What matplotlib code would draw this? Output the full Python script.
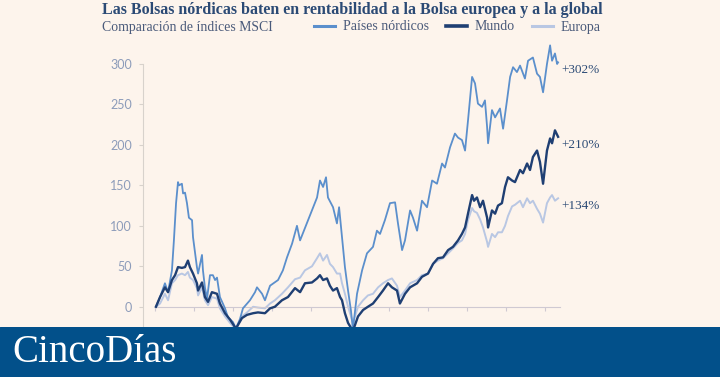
import matplotlib.pyplot as plt
from matplotlib.patches import Rectangle

# fechas en años decimales
fechas_nordicos = [1999.05, 1999.26, 1999.51, 1999.67, 1999.87, 1999.97, 2000.08, 2000.18, 2000.23, 2000.38,
                   2000.44, 2000.54, 2000.64, 2000.74, 2000.90, 2000.95, 2001.15, 2001.21, 2001.41, 2001.46,
                   2001.56, 2001.67, 2001.82, 2001.97, 2002.08, 2002.18, 2002.33, 2002.59, 2002.74, 2003.00,
                   2003.15, 2003.36, 2003.51, 2003.87, 2004.13, 2004.23, 2004.49, 2004.64, 2004.90, 2005.31,
                   2005.56, 2005.77, 2006.03, 2006.28, 2006.44, 2006.85, 2007.31, 2007.46, 2007.62, 2007.77,
                   2007.87, 2008.13, 2008.33, 2008.44, 2008.59, 2008.74, 2008.90, 2009.05, 2009.15, 2009.36,
                   2009.62, 2009.87, 2010.18, 2010.38, 2010.54, 2010.79, 2011.05, 2011.31, 2011.46, 2011.67,
                   2011.82, 2012.08, 2012.23, 2012.44, 2012.69, 2012.95, 2013.21, 2013.46, 2013.72, 2013.87,
                   2014.13, 2014.38, 2014.54, 2014.74, 2014.90, 2015.05, 2015.26, 2015.41, 2015.56, 2015.77,
                   2015.92, 2016.03, 2016.08, 2016.28, 2016.44, 2016.69, 2016.85, 2017.05, 2017.21, 2017.36,
                   2017.56, 2017.72, 2017.97, 2018.13, 2018.38, 2018.59, 2018.74, 2018.90, 2019.10, 2019.26,
                   2019.36, 2019.51, 2019.62, 2019.67]
nordicos = [0, 12, 29, 18, 45, 82, 128, 154, 150, 152,
            140, 141, 128, 110, 107, 86, 49, 41, 64, 45,
            24, 10, 39, 39, 33, 36, 12, -2, -13, -19,
            -27, -15, -2, 8, 18, 24, 16, 8, 26, 33,
            45, 61, 78, 100, 82, 107, 135, 156, 148, 160,
            135, 123, 103, 123, 86, 49, 20, -5, -28, 16,
            45, 66, 74, 94, 90, 107, 128, 129, 103, 70,
            82, 119, 110, 94, 131, 123, 156, 152, 177, 172,
            197, 214, 209, 206, 193, 230, 284, 276, 251, 247,
            255, 222, 202, 243, 234, 245, 220, 255, 284, 296,
            290, 298, 282, 304, 308, 288, 284, 265, 300, 323,
            304, 313, 300, 302]

fechas = [1999.05, 1999.26, 1999.51, 1999.67, 1999.87, 2000.03, 2000.18, 2000.38, 2000.54, 2000.69,
          2000.79, 2000.95, 2001.15, 2001.21, 2001.41, 2001.56, 2001.72, 2001.92, 2002.18, 2002.33,
          2002.59, 2002.85, 2003.15, 2003.46, 2003.72, 2004.03, 2004.28, 2004.64, 2004.90, 2005.15,
          2005.51, 2005.82, 2006.18, 2006.44, 2006.69, 2007.05, 2007.31, 2007.46, 2007.62, 2007.82,
          2007.97, 2008.13, 2008.33, 2008.49, 2008.59, 2008.74, 2008.90, 2009.15, 2009.41, 2009.67,
          2009.92, 2010.18, 2010.44, 2010.69, 2010.95, 2011.15, 2011.41, 2011.56, 2011.82, 2012.08,
          2012.44, 2012.69, 2013.00, 2013.26, 2013.51, 2013.77, 2014.03, 2014.28, 2014.54, 2014.74,
          2014.90, 2015.05, 2015.26, 2015.36, 2015.51, 2015.67, 2015.82, 2016.03, 2016.08, 2016.28,
          2016.44, 2016.59, 2016.79, 2016.95, 2017.10, 2017.31, 2017.46, 2017.72, 2017.87, 2018.08,
          2018.23, 2018.38, 2018.59, 2018.74, 2018.90, 2019.10, 2019.26, 2019.36, 2019.51, 2019.67]
mundo = [0, 12, 24, 18, 33, 39, 49, 48, 49, 57,
         49, 41, 29, 20, 30, 12, 6, 18, 16, 4,
         -8, -16, -27, -14, -10, -8, -7, -8, -2, 0,
         8, 12, 23, 18, 29, 30, 35, 39, 33, 35,
         26, 20, 23, 12, 8, -8, -20, -30, -12, -4,
         0, 4, 12, 20, 29, 24, 20, 4, 16, 24,
         29, 37, 41, 53, 60, 61, 70, 74, 82, 90,
         98, 115, 138, 131, 135, 123, 131, 110, 98, 119,
         115, 125, 128, 148, 160, 156, 154, 169, 165, 177,
         169, 185, 193, 179, 152, 193, 208, 202, 218, 210]
europa = [0, 4, 16, 8, 29, 33, 39, 41, 39, 43,
          36, 33, 23, 14, 24, 8, 2, 12, 10, -2,
          -12, -20, -28, -12, -7, 0, -1, -2, 4, 8,
          16, 24, 34, 36, 45, 50, 60, 66, 57, 64,
          53, 49, 41, 41, 29, 16, 0, -20, 0, 8,
          14, 16, 24, 29, 33, 35, 26, 12, 20, 29,
          33, 39, 41, 53, 57, 60, 66, 72, 79, 82,
          90, 107, 122, 118, 116, 108, 98, 80, 74, 90,
          86, 92, 92, 100, 112, 124, 126, 131, 123, 134,
          128, 131, 121, 115, 104, 128, 135, 138, 131, 134]

etiquetas_final = ["+302%", "+210%", "+134%"]
yticks = [0, 50, 100, 150, 200, 250, 300]
xticks = list(range(1999, 2020, 2))

fondo = "#fdf4ec"
c_nord = "#5b8fcc"
c_mundo = "#1f3f73"
c_europa = "#b9c7e3"
c_texto = "#2b4a75"

fig = plt.figure(figsize=(7.2, 3.77), dpi=100, facecolor=fondo)
ax = fig.add_axes([0.1986, 0.1005, 0.599, 0.7942])
ax.set_facecolor(fondo)

ax.plot(fechas, europa, color=c_europa, lw=1.4, zorder=2)
ax.plot(fechas_nordicos, nordicos, color=c_nord, lw=1.3, zorder=3)
ax.plot(fechas, mundo, color=c_mundo, lw=1.7, zorder=4)

ax.set_xlim(1998.385, 2020.5)
ax.set_ylim(-40, 330)

for s in ["top", "right"]:
    ax.spines[s].set_visible(False)
ax.spines["left"].set_color("#d8d2cc")
ax.spines["left"].set_bounds(-40, 300)
ax.spines["bottom"].set_position(("data", 0))
ax.spines["bottom"].set_color("#cfc9d2")
ax.spines["bottom"].set_bounds(1999, 2019.77)

ax.set_yticks(yticks)
ax.set_yticklabels([str(v) for v in yticks], family="Lato", fontsize=9, color="#8d9cba")
ax.tick_params(axis="y", length=3, color="#d8d2cc", pad=5)
ax.set_xticks(xticks)
ax.set_xticklabels([])
ax.tick_params(axis="x", length=3, color="#cfc9d2")

finales = [(fechas_nordicos[-1], nordicos[-1]), (fechas[-1], mundo[-1]), (fechas[-1], europa[-1])]
for (xf, yf), txt in zip(finales, etiquetas_final):
    ax.annotate(txt, (xf, yf), xytext=(2, -8), textcoords="offset points",
                family="Liberation Serif", fontsize=9.5, color=c_texto, clip_on=False)

fig.text(102 / 720, 1 - 10 / 377, "Las Bolsas nórdicas baten en rentabilidad a la Bolsa europea y a la global",
         family="Liberation Serif", weight="bold", fontsize=11.5, color=c_texto, va="center")
fig.text(102 / 720, 1 - 27 / 377, "Comparación de índices MSCI",
         family="Liberation Serif", fontsize=9.9, color="#4a5a7a", va="center")

handles = [plt.Line2D([], [], color=c, lw=w) for c, w in [(c_nord, 2.2), (c_mundo, 2.6), (c_europa, 2.2)]]
leg = fig.legend(handles, ["Países nórdicos", "Mundo", "Europa"], loc="center left",
                 bbox_to_anchor=(314 / 720, 1 - 27 / 377), ncol=3, frameon=False,
                 prop={"family": "Liberation Serif", "size": 10}, handlelength=1.5,
                 handletextpad=0.6, columnspacing=1.2, borderaxespad=0, borderpad=0)
for t in leg.get_texts():
    t.set_color("#4a5a7a")

# franja inferior con la marca
banda = fig.add_axes([0, 0, 1, 50 / 377], zorder=10)
banda.set_axis_off()
banda.add_patch(Rectangle((0, 0), 1, 1, transform=banda.transAxes, color="#02508a"))
banda.text(12 / 720, 0.5, "CincoDías", transform=banda.transAxes, family="Liberation Serif",
           fontsize=28, color="white", va="center", ha="left")

fig.savefig("out.png", dpi=100, facecolor=fondo)
